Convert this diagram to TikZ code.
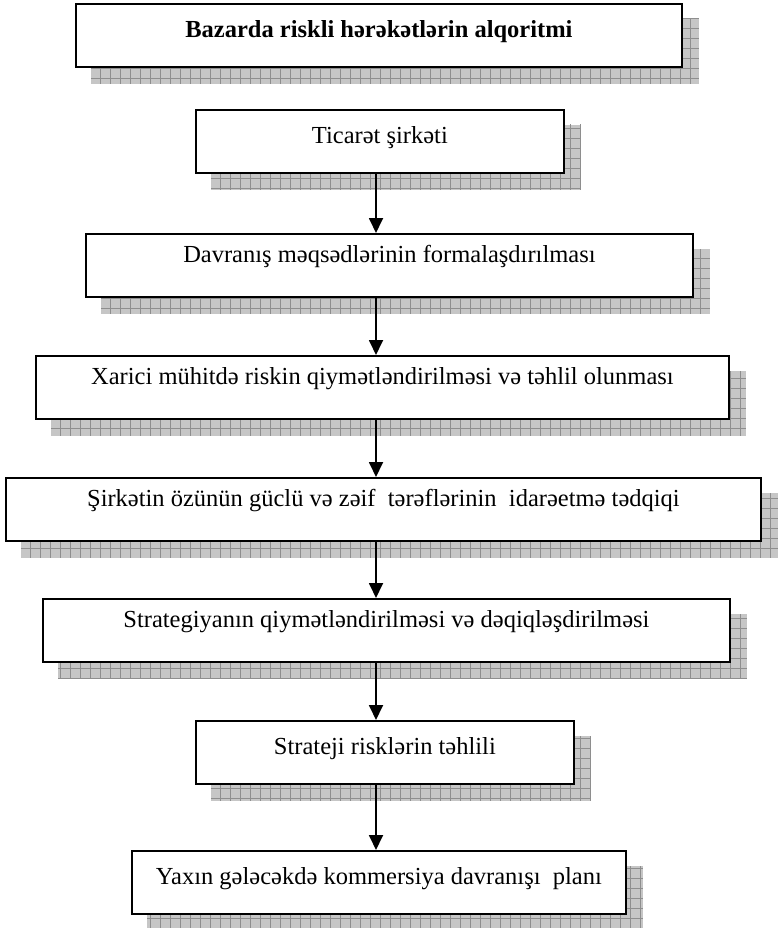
\documentclass[tikz,border=0pt]{standalone}
\usepackage{fontspec}
\setmainfont{Liberation Serif}
\usepackage{tikz}
\usetikzlibrary{arrows.meta,patterns.meta,backgrounds}
\usepackage{xcolor}
\definecolor{shadowgray}{HTML}{C6C6C6}
\definecolor{gridgray}{HTML}{8E8E8E}

\begin{document}
\begin{tikzpicture}[
    x=1pt, y=-1pt,
    stepbox/.style={draw, line width=1.8pt, fill=white, anchor=north west, inner xsep=0pt, inner ysep=0pt,
        minimum width=#1, font=\fontsize{24.5}{29}\selectfont, text height=34pt, text depth=29pt},
    stepup/.style={stepbox=#1, text height=29pt, text depth=34pt},
    shadowfill/.style={fill=shadowgray, postaction={pattern={Hatch[angle=0,distance=10pt,line width=0.7pt]}, pattern color=gridgray}},
    arrow/.style={-{Triangle[width=14pt,length=15pt]}, line width=1.8pt},
]
\useasboundingbox (0,0) rectangle (782,928);

\coordinate (axis) at (376,0);

\node[stepbox=606pt] (title) at (75,3) {\textbf{Bazarda riskli hərəkətlərin alqoritmi}};
\node[stepbox=368pt] (firm) at (195,109) {Ticarət şirkəti};
\node[stepup=607pt] (goals) at (85,233) {Davranış məqsədlərinin formalaşdırılması};
\node[stepup=693pt] (extrisk) at (35,355) {Xarici mühitdə riskin qiymətləndirilməsi və təhlil olunması};
\node[stepup=755pt] (selfstudy) at (5,477) {Şirkətin özünün güclü və zəif\ \ tərəflərinin\ \ idarəetmə tədqiqi};
\node[stepup=687pt] (strateval) at (42,598) {Strategiyanın qiymətləndirilməsi və dəqiqləşdirilməsi};
\node[stepbox=378pt] (stratrisk) at (195,720) {Strateji risklərin təhlili};
\node[stepbox=494pt] (plan) at (131,850) {Yaxın gələcəkdə kommersiya davranışı\ \ planı};

% shadows
\begin{scope}[on background layer]
\foreach \n in {title,firm,goals,extrisk,selfstudy,strateval,stratrisk,plan}
    \fill[shadowfill] ([shift={(16,16)}]\n.south west) rectangle ([shift={(16,16)}]\n.north east);
\end{scope}

\draw[arrow] (firm.south -| axis) -- (goals.north -| axis);
\draw[arrow] (goals.south -| axis) -- (extrisk.north -| axis);
\draw[arrow] (extrisk.south -| axis) -- (selfstudy.north -| axis);
\draw[arrow] (selfstudy.south -| axis) -- (strateval.north -| axis);
\draw[arrow] (strateval.south -| axis) -- (stratrisk.north -| axis);
\draw[arrow] (stratrisk.south -| axis) -- (plan.north -| axis);

\end{tikzpicture}
\end{document}
